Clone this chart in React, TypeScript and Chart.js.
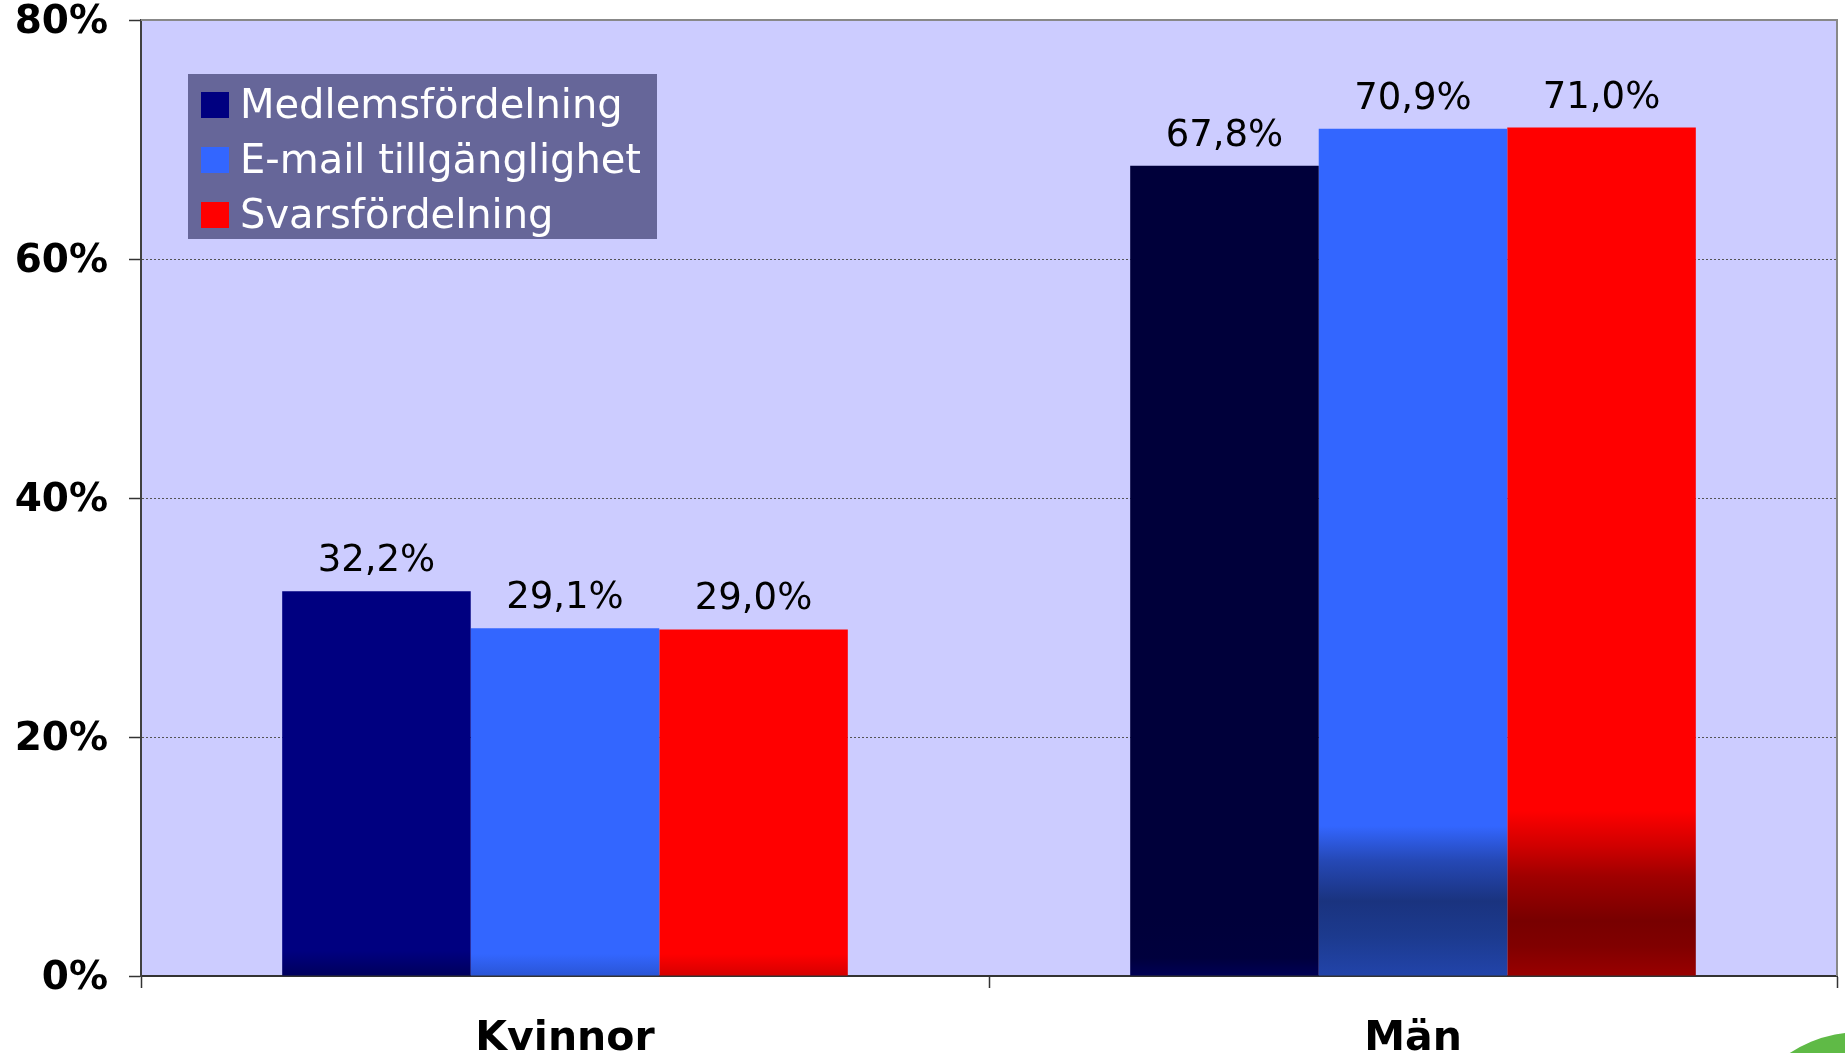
import React, { useEffect, useRef } from 'react';
import { Chart, registerables } from 'chart.js';

Chart.register(...registerables);

const categories = ['Kvinnor', 'Män'];
const seriesNames = ['Medlemsfördelning', 'E-mail tillgänglighet', 'Svarsfördelning'];
const medlemsfordelning = [32.2, 67.8];
const emailTillganglighet = [29.1, 70.9];
const svarsfordelning = [29.0, 71.0];
const yTickStep = 20;
const yMax = 80;

const legendColors = ['#000080', '#3366FF', '#FF0000'];

// gradient stops per series per category: [distance from axis bottom in px, colour]
const gradientStops: [number, string][][][] = [
  [
    [[0, '#00005C'], [25, '#000080']],
    [[0, '#000055'], [18, '#00003D'], [60, '#00003A']],
  ],
  [
    [[0, '#2A55D5'], [22, '#3366FF']],
    [[0, '#2244AA'], [40, '#1C3A8E'], [75, '#1A337F'], [115, '#2548B5'], [150, '#3366FF']],
  ],
  [
    [[0, '#D50000'], [22, '#FF0000']],
    [[0, '#990000'], [30, '#800000'], [55, '#780000'], [100, '#A00000'], [130, '#D00000'], [165, '#FF0000']],
  ],
];

const FONT = '"DejaVu Sans", Verdana, sans-serif';

function makeFill(seriesIndex: number) {
  return (c: any) => {
    const chart = c.chart;
    const area = chart.chartArea;
    const stops = gradientStops[seriesIndex][c.dataIndex] || [[0, legendColors[seriesIndex]]];
    if (!area) return stops[stops.length - 1][1];
    const h = area.bottom - area.top;
    const g = chart.ctx.createLinearGradient(0, area.top, 0, area.bottom);
    g.addColorStop(0, stops[stops.length - 1][1]);
    for (let i = stops.length - 1; i >= 0; i--) {
      const off = Math.min(1, Math.max(0, 1 - stops[i][0] / h));
      g.addColorStop(off, stops[i][1]);
    }
    return g;
  };
}

const bgPlugin = {
  id: 'plotBg',
  beforeDraw(chart: any) {
    const { ctx, chartArea: a } = chart;
    ctx.save();
    ctx.fillStyle = '#CCCCFF';
    ctx.fillRect(a.left, a.top, a.right - a.left, a.bottom - a.top);
    ctx.restore();
  },
};

const framePlugin = {
  id: 'frame',
  afterDraw(chart: any) {
    const { ctx, chartArea: a } = chart;
    ctx.save();
    ctx.strokeStyle = '#888888';
    ctx.lineWidth = 2;
    ctx.beginPath();
    ctx.moveTo(a.left, a.top);
    ctx.lineTo(a.right, a.top);
    ctx.lineTo(a.right, a.bottom);
    ctx.stroke();
    // decorative green shape at the corner
    ctx.fillStyle = '#5FBA46';
    ctx.beginPath();
    ctx.arc(1860, 1160, 128, 0, Math.PI * 2);
    ctx.fill();
    ctx.restore();
  },
};

const valueLabelPlugin = {
  id: 'valueLabels',
  afterDatasetsDraw(chart: any) {
    const ctx = chart.ctx;
    ctx.save();
    ctx.font = `37px ${FONT}`;
    ctx.fillStyle = '#000';
    ctx.textAlign = 'center';
    ctx.textBaseline = 'alphabetic';
    chart.data.datasets.forEach((ds: any, di: number) => {
      const meta = chart.getDatasetMeta(di);
      meta.data.forEach((bar: any, i: number) => {
        const v = ds.data[i] as number;
        ctx.fillText(v.toFixed(1).replace('.', ',') + '%', bar.x, bar.y - 20);
      });
    });
    ctx.restore();
  },
};

const legendPlugin = {
  id: 'boxLegend',
  afterDraw(chart: any) {
    const { ctx, chartArea: a } = chart;
    const x = a.left + 47;
    const y = a.top + 54;
    ctx.save();
    ctx.fillStyle = '#666699';
    ctx.fillRect(x, y, 469, 165);
    ctx.font = `40px ${FONT}`;
    ctx.textAlign = 'left';
    ctx.textBaseline = 'alphabetic';
    chart.data.datasets.forEach((ds: any, i: number) => {
      const rowY = y + 18 + i * 55;
      ctx.fillStyle = legendColors[i];
      ctx.fillRect(x + 13, rowY, 28, 26);
      ctx.fillStyle = '#FFFFFF';
      ctx.fillText(ds.label, x + 52, y + 44 + i * 55);
    });
    ctx.restore();
  },
};

export default function App() {
  const ref = useRef<HTMLCanvasElement | null>(null);

  useEffect(() => {
    if (!ref.current) return;
    const chart = new Chart(ref.current, {
      type: 'bar',
      data: {
        labels: categories,
        datasets: [
          { label: seriesNames[0], data: medlemsfordelning, backgroundColor: makeFill(0) as any },
          { label: seriesNames[1], data: emailTillganglighet, backgroundColor: makeFill(1) as any },
          { label: seriesNames[2], data: svarsfordelning, backgroundColor: makeFill(2) as any },
        ],
      },
      options: {
        animation: false,
        responsive: false,
        devicePixelRatio: 1,
        layout: { padding: { top: 20, right: 8, left: 0, bottom: 0 } },
        datasets: { bar: { categoryPercentage: 0.667, barPercentage: 1.0, borderWidth: 0 } },
        plugins: { legend: { display: false }, tooltip: { enabled: false } },
        scales: {
          x: {
            ticks: {
              font: { family: FONT, weight: 'bold', size: 41 },
              color: '#000',
              padding: 27,
              maxRotation: 0,
              autoSkip: false,
            },
            grid: {
              display: true,
              drawOnChartArea: false,
              drawTicks: true,
              tickLength: 12,
              tickColor: '#333',
              tickWidth: 1.5,
              offset: true,
              color: '#333',
            },
            border: { display: true, color: '#333', width: 2 },
            afterFit: (s: any) => {
              s.height = 77;
              s.paddingLeft = 0;
              s.paddingRight = 0;
            },
          },
          y: {
            min: 0,
            max: yMax,
            ticks: {
              stepSize: yTickStep,
              callback: (v: any) => v + '%',
              font: { family: FONT, weight: 'bold', size: 39, lineHeight: 1 },
              color: '#000',
              padding: 21,
              labelOffset: 3,
            },
            grid: {
              color: (c: any) =>
                c.tick && (c.tick.value === 0 || c.tick.value === yMax) ? 'rgba(0,0,0,0)' : '#555',
              lineWidth: 1,
              drawTicks: true,
              tickLength: 12,
              tickColor: '#333',
              tickWidth: 1.5,
            },
            border: { display: true, color: '#404040', width: 2, dash: [2, 2] },
            afterFit: (s: any) => {
              s.width = 141;
              s.paddingTop = 0;
              s.paddingBottom = 0;
            },
          },
        },
      } as any,
      plugins: [bgPlugin, valueLabelPlugin, framePlugin, legendPlugin],
    });
    return () => chart.destroy();
  }, []);

  return (
    <div style={{ position: 'fixed', left: 0, top: 0, width: 1845, height: 1053, background: '#fff' }}>
      <canvas ref={ref} width={1845} height={1053} style={{ width: 1845, height: 1053, display: 'block' }} />
    </div>
  );
}
